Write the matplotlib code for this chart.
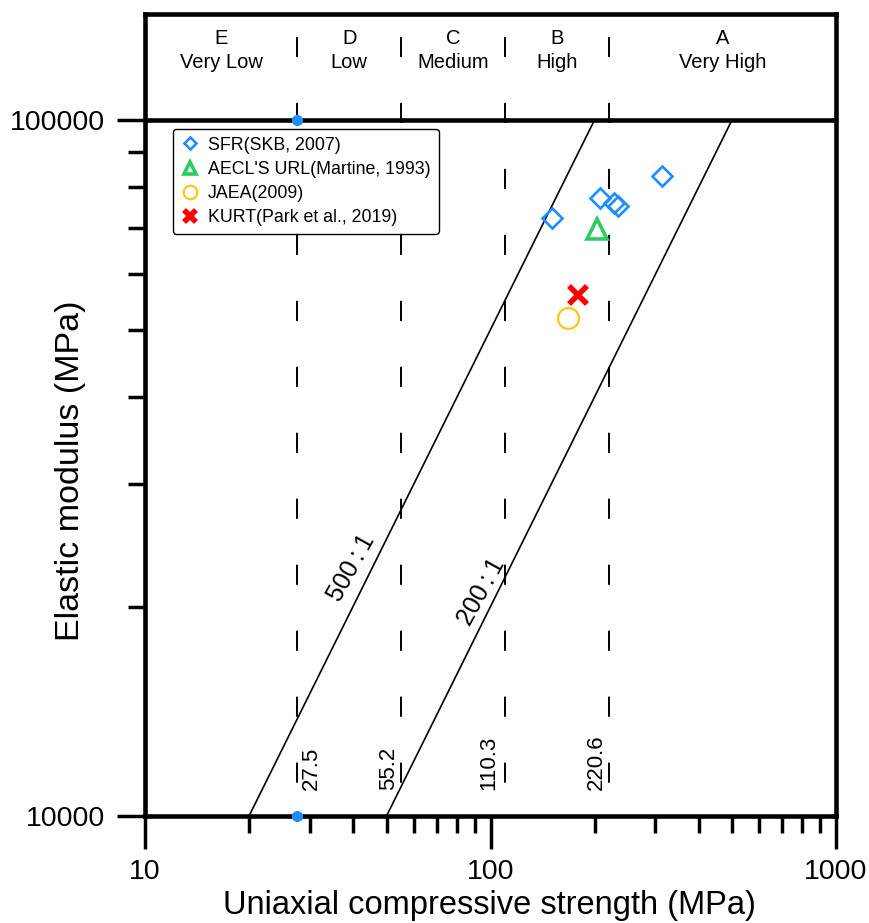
import matplotlib
matplotlib.use("Agg")
import matplotlib.pyplot as plt
from matplotlib.ticker import FixedLocator, NullFormatter

plt.rcParams['font.family'] = ['Liberation Sans', 'DejaVu Sans']
plt.rcParams['lines.scale_dashes'] = False

# rock strength class boundaries (MPa)
bounds = [27.5, 55.2, 110.3, 220.6]
bound_labels = ['27.5', '55.2', '110.3', '220.6']
class_letters = ['E', 'D', 'C', 'B', 'A']
class_names = ['Very Low', 'Low', 'Medium', 'High', 'Very High']
class_centers = [16.6, 39.0, 78.0, 156.0, 470.0]

# modulus ratio lines
ratios = [500, 200]
ratio_labels = ['500\u2009:\u20091', '200\u2009:\u20091']
ratio_label_pos = [(39.5, 22720), (93.9, 20980)]

# data points (UCS in MPa, E in MPa)
sfr_ucs = [150.7, 207.5, 227.7, 233.9, 313.6]
sfr_e = [72300, 77300, 76000, 75200, 83100]
aecl_ucs = [203]
aecl_e = [69700]
jaea_ucs = [167.5]
jaea_e = [51960]
kurt_ucs = [179]
kurt_e = [56080]

blue = '#1E8FFF'
green = '#2ECC5F'
yellow = '#FFC812'
red = '#FF0000'

fig = plt.figure(figsize=(8.69, 9.23), dpi=100)
ax = fig.add_axes([0.1669, 0.1159, 0.962 - 0.1669, 0.9848 - 0.1159])
ax.set_xscale('log')
ax.set_yscale('log')
ymax = 10 ** (4 + 802 / 696)
ax.set_xlim(10, 1000)
ax.set_ylim(10000, ymax)

for s in ax.spines.values():
    s.set_linewidth(3.3)
ax.axhline(100000, color='black', lw=3.3, zorder=3)

# vertical class boundaries
for b in bounds:
    ax.plot([b, b], [ymax, 10000], color='black', lw=1.4, dashes=(0, 16.5, 14.5, 16.5), zorder=1)

# ratio lines
for r in ratios:
    ax.plot([10000 / r, 100000 / r], [10000, 100000], color='black', lw=1.2, zorder=1)

for lab, (px, py) in zip(ratio_labels, ratio_label_pos):
    ax.text(px, py, lab, rotation=61, ha='center', va='center',
            fontsize=18, rotation_mode='anchor')

# boundary value labels
offs = [15, -13, -16, -13]
for b, lab, o in zip(bounds, bound_labels, offs):
    ax.annotate(lab, xy=(b, 10900), xytext=(o * 0.72, 0), textcoords='offset points',
                rotation=90, ha='center', va='bottom', fontsize=16)

# header labels
for c, l, n in zip(class_centers, class_letters, class_names):
    ax.text(c, 0.970, l, transform=ax.get_xaxis_transform(), ha='center', va='center', fontsize=14.5)
    ax.text(c, 0.940, n, transform=ax.get_xaxis_transform(), ha='center', va='center', fontsize=14.5)

# blue reference dots
ax.plot([27.5, 27.5], [10000, 100000], 'o', color=blue, ms=7, clip_on=False, zorder=5)

ax.plot(sfr_ucs, sfr_e, 'D', ms=10, mfc='none', mec=blue, mew=1.9, ls='none',
        label='SFR(SKB, 2007)', zorder=4)
ax.plot(aecl_ucs, aecl_e, '^', ms=14, mfc='none', mec=green, mew=2.6, ls='none',
        label="AECL'S URL(Martine, 1993)", zorder=4)
ax.plot(jaea_ucs, jaea_e, 'o', ms=15, mfc='none', mec=yellow, mew=1.6, ls='none',
        label='JAEA(2009)', zorder=4)
ax.plot(kurt_ucs, kurt_e, 'x', ms=13, mec=red, mew=4, ls='none',
        label='KURT(Park et al., 2019)', zorder=4)

leg = ax.legend(loc='upper left', bbox_to_anchor=(0.040, 0.857), borderaxespad=0,
                fontsize=12.8, markerscale=0.65, handlelength=1.0, handletextpad=0.55,
                labelspacing=0.4, borderpad=0.45, fancybox=True, framealpha=1,
                edgecolor='black')
leg.get_frame().set_linewidth(1.0)

# ticks
ax.xaxis.set_major_locator(FixedLocator([10, 100, 1000]))
ax.xaxis.set_minor_locator(FixedLocator([20, 30, 40, 50, 60, 70, 80, 90,
                                         200, 300, 400, 500, 600, 700, 800, 900]))
ax.set_xticklabels(['10', '100', '1000'])
ax.xaxis.set_minor_formatter(NullFormatter())
ax.yaxis.set_major_locator(FixedLocator([10000, 100000]))
ax.yaxis.set_minor_locator(FixedLocator([20000, 30000, 40000, 50000, 60000, 70000, 80000, 90000]))
ax.set_yticklabels(['10000', '100000'])
ax.yaxis.set_minor_formatter(NullFormatter())
ax.tick_params(axis='x', which='major', direction='out', length=24, width=2.5, pad=7, labelsize=20.5)
ax.tick_params(axis='x', which='minor', direction='out', length=12, width=2.5)
ax.tick_params(axis='y', which='major', direction='out', length=20, width=2.5, pad=9, labelsize=20.5)
ax.tick_params(axis='y', which='minor', direction='out', length=12, width=2.5)

ax.set_xlabel('Uniaxial compressive strength (MPa)', fontsize=23.5)
ax.set_ylabel('Elastic modulus (MPa)', fontsize=24.5)
ax.xaxis.set_label_coords(0.4986, -0.092)
ax.yaxis.set_label_coords(-0.086, 0.43)

fig.savefig('out.png', dpi=100)
